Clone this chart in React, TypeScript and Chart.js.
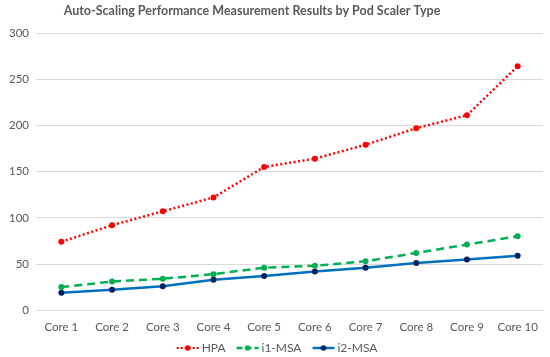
import React, { useEffect, useRef } from "react";
import { Chart, registerables } from "chart.js";
Chart.register(...registerables);

const categories = ["Core 1", "Core 2", "Core 3", "Core 4", "Core 5", "Core 6", "Core 7", "Core 8", "Core 9", "Core 10"];
const hpa = [74, 92, 107, 122, 155, 164, 179, 197, 211, 264];
const i1msa = [25, 31, 34, 39, 46, 48, 53, 62, 71, 80];
const i2msa = [19, 22, 26, 33, 37, 42, 46, 51, 55, 59];
const seriesNames = ["HPA", "i1-MSA", "i2-MSA"];
const titleText = "Auto-Scaling Performance Measurement Results by Pod Scaler Type";

const FONT = "Lato, 'Noto Sans', sans-serif";

function legendIcon(color: string, pointColor: string, dash: number[], width: number) {
  const c = document.createElement("canvas");
  c.width = 40;
  c.height = 10;
  const ctx = c.getContext("2d")!;
  ctx.strokeStyle = color;
  ctx.lineWidth = width;
  ctx.setLineDash(dash);
  ctx.beginPath();
  ctx.moveTo(15, 5);
  ctx.lineTo(37, 5);
  ctx.stroke();
  ctx.setLineDash([]);
  ctx.fillStyle = pointColor;
  ctx.beginPath();
  ctx.arc(26, 5, 2.8, 0, Math.PI * 2);
  ctx.fill();
  return c;
}

const titlePlugin = {
  id: "offsetTitle",
  afterDraw(chart: any) {
    const ctx = chart.ctx;
    ctx.save();
    ctx.font = `bold 12.5px ${FONT}`;
    ctx.fillStyle = "#595959";
    ctx.textAlign = "center";
    ctx.textBaseline = "middle";
    ctx.fillText(titleText, 252, 11);
    ctx.restore();
  },
};

export default function App() {
  const ref = useRef<HTMLCanvasElement>(null);
  useEffect(() => {
    document.body.style.margin = "0";
    const icons = [
      legendIcon("#FF0000", "#FF0000", [2, 2], 2),
      legendIcon("#00B050", "#00B050", [6, 3], 2.5),
      legendIcon("#0070C0", "#002060", [], 2.5),
    ];
    const chart = new Chart(ref.current!, {
      type: "line",
      plugins: [titlePlugin],
      data: {
        labels: categories,
        datasets: [
          {
            label: seriesNames[0],
            data: hpa,
            borderColor: "#FF0000",
            backgroundColor: "#FF0000",
            borderWidth: 2.5,
            borderDash: [2, 2.5],
            pointRadius: 3,
            pointBorderWidth: 0,
            pointStyle: "circle",
            tension: 0,
          },
          {
            label: seriesNames[1],
            data: i1msa,
            borderColor: "#00B050",
            backgroundColor: "#00B050",
            borderWidth: 2.5,
            borderDash: [8, 5],
            pointRadius: 3,
            pointBorderWidth: 0,
            tension: 0,
          },
          {
            label: seriesNames[2],
            data: i2msa,
            borderColor: "#0070C0",
            backgroundColor: "#002060",
            borderWidth: 2.5,
            pointRadius: 3,
            pointBorderWidth: 0,
            tension: 0,
          },
        ],
      },
      options: {
        responsive: false,
        animation: false,
        maintainAspectRatio: false,
        layout: { padding: { left: 2, right: 7, top: 33, bottom: -7 } },
        plugins: {
          title: { display: false },
          legend: {
            position: "bottom",
            labels: {
              usePointStyle: true,
              pointStyleWidth: 28,
              boxHeight: 10,
              color: "#595959",
              padding: 2,
              font: { family: FONT, size: 12 },
              generateLabels: (ch: any) =>
                ch.data.datasets.map((ds: any, i: number) => ({
                  text: ds.label,
                  pointStyle: icons[i],
                  fillStyle: ds.borderColor,
                  strokeStyle: ds.borderColor,
                  lineWidth: 0,
                  hidden: false,
                  datasetIndex: i,
                  fontColor: "#595959",
                })),
            },
          },
          tooltip: { enabled: false },
        },
        scales: {
          x: {
            offset: true,
            grid: { display: false },
            border: { display: true, color: "#d9d9d9" },
            ticks: { color: "#595959", font: { family: FONT, size: 11.5 }, maxRotation: 0, padding: 2 },
            afterFit: (s: any) => {
              s.height += 4;
            },
          },
          y: {
            min: 0,
            max: 300,
            ticks: { stepSize: 50, color: "#595959", font: { family: FONT, size: 11.5 }, padding: 7 },
            grid: { color: "#d9d9d9", drawTicks: false },
            border: { display: false },
          },
        },
      },
    });
    return () => chart.destroy();
  }, []);
  return (
    <div style={{ width: 550, height: 357, background: "#fff" }}>
      <canvas ref={ref} width={550} height={357} />
    </div>
  );
}
